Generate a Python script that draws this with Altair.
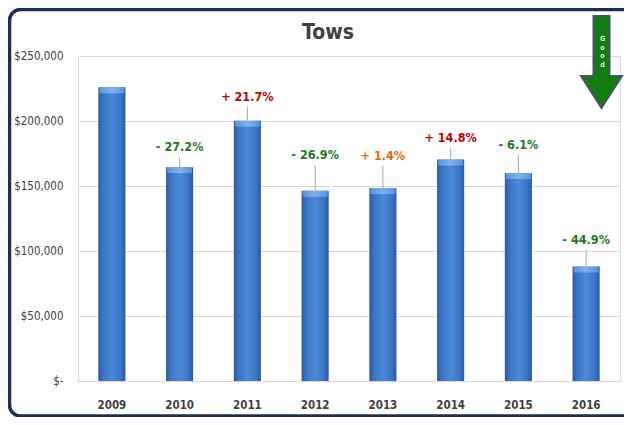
import altair as alt
import pandas as pd

# ---- data ----
years = ["2009", "2010", "2011", "2012", "2013", "2014", "2015", "2016"]
tows = [226000, 164500, 200200, 146300, 148350, 170300, 159900, 88100]
label_years = ["2010", "2011", "2012", "2013", "2014", "2015", "2016"]
label_texts = ["- 27.2%", "+ 21.7%", "- 26.9%", "+ 1.4%", "+ 14.8%", "- 6.1%", "- 44.9%"]
label_kind = ["down", "up", "down", "small up", "up", "down", "down"]
label_level = [172000, 211000, 166000, 165500, 179000, 174000, 101000]
y_ticks = [0, 50000, 100000, 150000, 200000, 250000]
title_text = "Tows"
arrow_text = "G\no\no\nd"

FONT = "Liberation Sans Narrow, DejaVu Sans Condensed, Open Sans, sans-serif"

bars_df = pd.DataFrame({"year": years, "tows": tows})
lab_df = pd.DataFrame({
    "year": label_years,
    "text": label_texts,
    "kind": label_kind,
    "level": label_level,
    "tows": tows[1:],
})
one = pd.DataFrame({"t": [title_text]})

xenc = alt.X("year:N", sort=years,
             scale=alt.Scale(paddingInner=0.6, paddingOuter=0.3),
             axis=alt.Axis(title=None, labelAngle=0, ticks=False,
                           domainColor="#d9d9d9", labelFont=FONT,
                           labelFontSize=11.5, labelFontWeight="bold",
                           labelColor="#404040", labelPadding=18))
yscale = alt.Scale(domain=[0, 250000], nice=False)
yenc = alt.Y("tows:Q", scale=yscale,
             axis=alt.Axis(title=None, values=y_ticks, domain=False, ticks=False,
                           gridColor="#d9d9d9", labelFont=FONT, labelFontSize=11.5,
                           labelColor="#404040", labelPadding=15,
                           labelExpr="datum.value == 0 ? '$-' : '$' + format(datum.value, ',')"))

base = alt.Chart(bars_df)

bars = base.mark_bar(
    color=alt.Gradient(
        gradient="linear", x1=0, x2=1, y1=0, y2=0,
        stops=[
            alt.GradientStop(color="#2a5a9e", offset=0),
            alt.GradientStop(color="#3b76c6", offset=0.18),
            alt.GradientStop(color="#4a89d8", offset=0.5),
            alt.GradientStop(color="#3b76c6", offset=0.82),
            alt.GradientStop(color="#2a5a9e", offset=1),
        ],
    )
).encode(x=xenc, y=yenc)

bevel = base.mark_tick(
    thickness=6, size=25, yOffset=3, opacity=0.9,
    color=alt.Gradient(
        gradient="linear", x1=0, x2=1, y1=0, y2=0,
        stops=[
            alt.GradientStop(color="#5f97dc", offset=0),
            alt.GradientStop(color="#86b6ee", offset=0.5),
            alt.GradientStop(color="#5f97dc", offset=1),
        ],
    ),
).encode(x=alt.X("year:N", sort=years), y=alt.Y("tows:Q", scale=yscale))

leaders = alt.Chart(lab_df).mark_rule(color="#a6a6a6", strokeWidth=1).encode(
    x=alt.X("year:N", sort=years), y=alt.Y("tows:Q", scale=yscale), y2="level:Q")

labels = alt.Chart(lab_df).mark_text(
    font=FONT, fontSize=12.5, fontWeight="bold", baseline="bottom", dy=-3
).encode(
    x=alt.X("year:N", sort=years),
    y=alt.Y("level:Q", scale=yscale),
    text="text:N",
    color=alt.Color("kind:N", legend=None,
                    scale=alt.Scale(domain=["down", "up", "small up"],
                                    range=["#1b7a1b", "#c00000", "#e36c09"])),
)

title = alt.Chart(one).mark_text(
    font=FONT, fontSize=21, fontWeight="bold", color="#404040", baseline="middle"
).encode(x=alt.value(250), y=alt.value(-23), text="t:N")

arrow_path = ("M -0.174 -1 L 0.174 -1 L 0.174 0.304 L 0.445 0.304 L 0 1 "
              "L -0.445 0.304 L -0.174 0.304 Z")
arrow = alt.Chart(one).mark_point(
    shape=arrow_path, filled=True, fill="#0f7d0f", stroke="#44546a",
    strokeWidth=2, size=8464, opacity=1,
).encode(x=alt.value(523.5), y=alt.value(6))

arrow_lbl = alt.Chart(one).mark_text(
    text=arrow_text, lineBreak="\n", lineHeight=8.5, font=FONT, fontSize=7,
    fontWeight="bold", color="#e0e0e0", baseline="top",
).encode(x=alt.value(524.5), y=alt.value(-21))

border = alt.Chart(one).mark_rect(
    fillOpacity=0, stroke="#1c2f52", strokeWidth=3.5, cornerRadius=11
).encode(x=alt.value(-68.5), x2=alt.value(566), y=alt.value(-46.5), y2=alt.value(360))

chart = alt.layer(
    bars, bevel, leaders, labels, title, arrow, arrow_lbl, border
).properties(
    width=542, height=325,
    autosize=alt.AutoSizeParams(type="none"),
    padding={"left": 70, "top": 48, "right": 4, "bottom": 36},
).configure_view(stroke=None).configure(background="white")

chart.save("out.html", embed_options={"renderer": "svg", "actions": False})
